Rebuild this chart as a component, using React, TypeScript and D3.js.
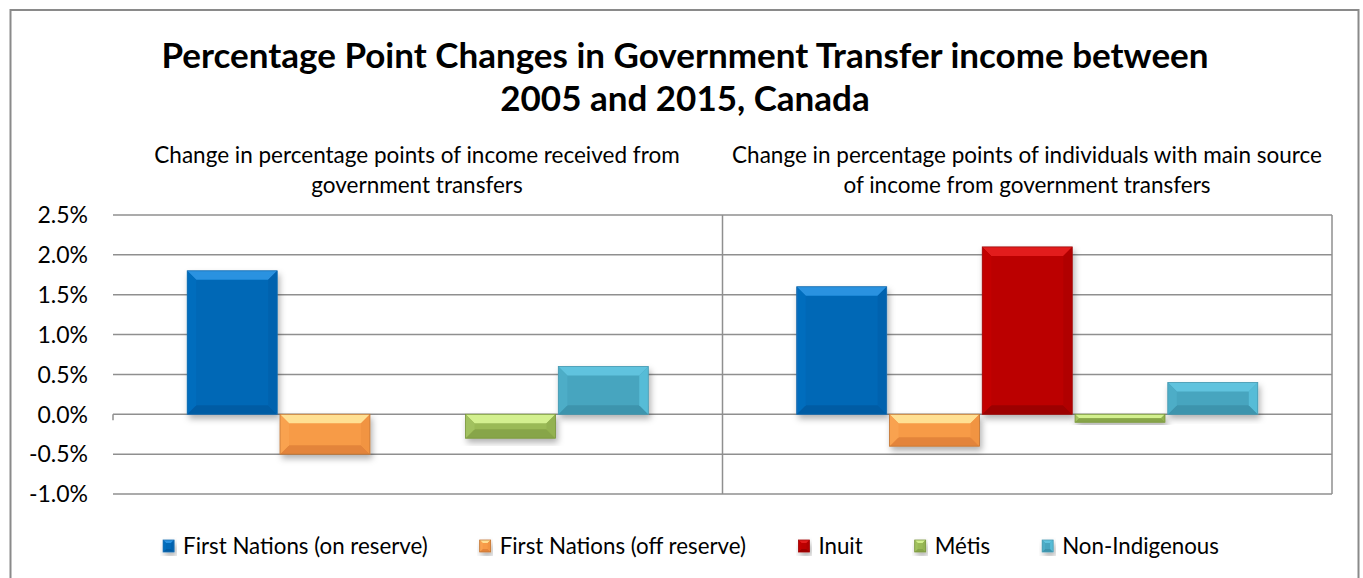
import React, { useMemo } from 'react';
import * as d3 from 'd3';

// chart data
const groupTitles = [
  ['Change in percentage points of income received from', 'government transfers'],
  ['Change in percentage points of individuals with main source', 'of income from government transfers'],
];
const series = [
  'First Nations (on reserve)',
  'First Nations (off reserve)',
  'Inuit',
  'Métis',
  'Non-Indigenous',
];
// percentage point changes, one array per group (null = no bar)
const incomeFromTransfers: (number | null)[] = [1.8, -0.5, null, -0.3, 0.6];
const mainSourceTransfers: (number | null)[] = [1.6, -0.4, 2.1, -0.1, 0.4];
const yTicks = [-1.0, -0.5, 0.0, 0.5, 1.0, 1.5, 2.0, 2.5];
const titleLines = ['Percentage Point Changes in Government Transfer income between', '2005 and 2015, Canada'];

const palette = [
  { base: '#0067b6', top: '#2a92e0', bottom: '#005ca4', left: '#066dbd', right: '#0062ae', stroke: '#1a6fb0' },
  { base: '#f79b47', top: '#ffe093', bottom: '#e3843a', left: '#f9a250', right: '#f19443', stroke: '#c07636' },
  { base: '#bb0000', top: '#e21c1c', bottom: '#9c0000', left: '#c20404', right: '#b00000', stroke: '#a01010' },
  { base: '#9aba57', top: '#d3f08f', bottom: '#87a548', left: '#a1c15e', right: '#93b251', stroke: '#7a963f' },
  { base: '#47a5bf', top: '#60c3de', bottom: '#3c94ad', left: '#4dadc7', right: '#57bcd7', stroke: '#4a9bb2' },
];

const W = 1363;
const H = 578;
const FONT = 'Lato, "Open Sans", sans-serif';

const measure = (() => {
  let ctx: CanvasRenderingContext2D | null = null;
  return (text: string, font: string) => {
    if (!ctx) ctx = document.createElement('canvas').getContext('2d');
    if (!ctx) return text.length * 9;
    ctx.font = font;
    return ctx.measureText(text).width;
  };
})();

// a bar drawn with an "office bevel" look
function BevelBar({ x, y, w, h, c, b = 9 }: { x: number; y: number; w: number; h: number; c: typeof palette[0]; b?: number }) {
  const e = Math.max(1, Math.min(b, h / 2, w / 2));
  const x1 = x + w;
  const y1 = y + h;
  const pts = (p: number[][]) => p.map(d => d.join(',')).join(' ');
  return (
    <g filter="url(#barShadow)">
      <rect x={x} y={y} width={w} height={h} fill={c.base} />
      <polygon points={pts([[x, y], [x1, y], [x1 - e, y + e], [x + e, y + e]])} fill={c.top} />
      <polygon points={pts([[x, y1], [x1, y1], [x1 - e, y1 - e], [x + e, y1 - e]])} fill={c.bottom} />
      <polygon points={pts([[x, y], [x + e, y + e], [x + e, y1 - e], [x, y1]])} fill={c.left} />
      <polygon points={pts([[x1, y], [x1 - e, y + e], [x1 - e, y1 - e], [x1, y1]])} fill={c.right} />
      <rect x={x} y={y} width={w} height={h} fill="none" stroke={c.stroke} strokeWidth={0.8} />
    </g>
  );
}

export default function App() {
  const plot = { left: 113, right: 1332, top: 215, bottom: 494 };
  const groups = [incomeFromTransfers, mainSourceTransfers];

  const y = useMemo(() => d3.scaleLinear().domain([-1, 2.5]).range([plot.bottom, plot.top]), []);
  const x0 = useMemo(() => d3.scaleBand<number>().domain(d3.range(groups.length)).range([plot.left, plot.right]), []);
  const x1 = useMemo(
    () => d3.scaleBand<string>().domain(series).range([0, x0.bandwidth()]).paddingInner(0.03).paddingOuter(0.8),
    [x0]
  );

  const legendSize = 22.3;
  const legendFont = `${legendSize}px ${FONT}`;
  const markerW = 11;
  const markerGap = 9;
  const itemGap = 52;
  const itemWidths = series.map(s => markerW + markerGap + measure(s, legendFont));
  const legendTotal = d3.sum(itemWidths) + itemGap * (series.length - 1);
  let lx = 691 - legendTotal / 2;
  const legendItems = series.map((s, i) => {
    const item = { s, i, x: lx };
    lx += itemWidths[i] + itemGap;
    return item;
  });

  return (
    <svg width={W} height={H} style={{ position: 'absolute', left: 0, top: 0, background: '#fff' }} fontFamily={FONT}>
      <defs>
        <filter id="barShadow" x="-20%" y="-20%" width="140%" height="150%">
          <feDropShadow dx="2" dy="4" stdDeviation="3" floodColor="#000" floodOpacity="0.3" />
        </filter>
      </defs>

      {/* outer frame */}
      <rect x={10.5} y={10} width={1348} height={H + 20} fill="#fff" stroke="#8a8a8a" strokeWidth={2} />

      {/* title */}
      <text x={685} textAnchor="middle" fontWeight="bold" fontSize={35} fill="#000">
        {titleLines.map((t, i) => (
          <tspan key={i} x={685} y={68 + i * 43}>{t}</tspan>
        ))}
      </text>

      {/* group subtitles */}
      {groupTitles.map((lines, g) => (
        <text key={g} textAnchor="middle" fontSize={22.5} fill="#000">
          {lines.map((t, j) => (
            <tspan key={j} x={(g === 0 ? 417 : 1027)} y={163 + j * 30}>{t}</tspan>
          ))}
        </text>
      ))}

      {/* gridlines */}
      {yTicks.map(t => (
        <line key={t} x1={plot.left} x2={plot.right} y1={y(t)} y2={y(t)} stroke="#8f8f8f" strokeWidth={1.5} />
      ))}
      {/* category separators */}
      {d3.range(groups.length + 1).map(g => {
        const xx = g === groups.length ? plot.right : x0(g)!;
        return g === 0 ? (
          <line key={g} x1={xx} x2={xx} y1={y(0)} y2={y(0) + 6} stroke="#8f8f8f" strokeWidth={1.5} />
        ) : (
          <line key={g} x1={xx} x2={xx} y1={plot.top} y2={plot.bottom} stroke="#8f8f8f" strokeWidth={1.5} />
        );
      })}

      {/* y tick labels */}
      {yTicks.map(t => (
        <text key={t} x={88} y={y(t)} dy="0.36em" textAnchor="end" fontSize={23} fill="#000">
          {`${t.toFixed(1)}%`}
        </text>
      ))}

      {/* bars */}
      {groups.map((vals, g) =>
        vals.map((v, i) => {
          if (v === null) return null;
          const top = y(Math.max(0, v));
          const bot = y(Math.min(0, v));
          return (
            <BevelBar
              key={`${g}-${i}`}
              x={x0(g)! + x1(series[i])!}
              y={top}
              w={x1.bandwidth()}
              h={bot - top}
              c={palette[i]}
            />
          );
        })
      )}

      {/* legend */}
      {legendItems.map(({ s, i, x }) => (
        <g key={s} transform={`translate(${x},546)`}>
          <BevelBar x={0} y={-6} w={markerW} h={12} c={palette[i]} b={3} />
          <text x={markerW + markerGap} y={0} dy="0.36em" fontSize={legendSize} fill="#000">{s}</text>
        </g>
      ))}
    </svg>
  );
}
